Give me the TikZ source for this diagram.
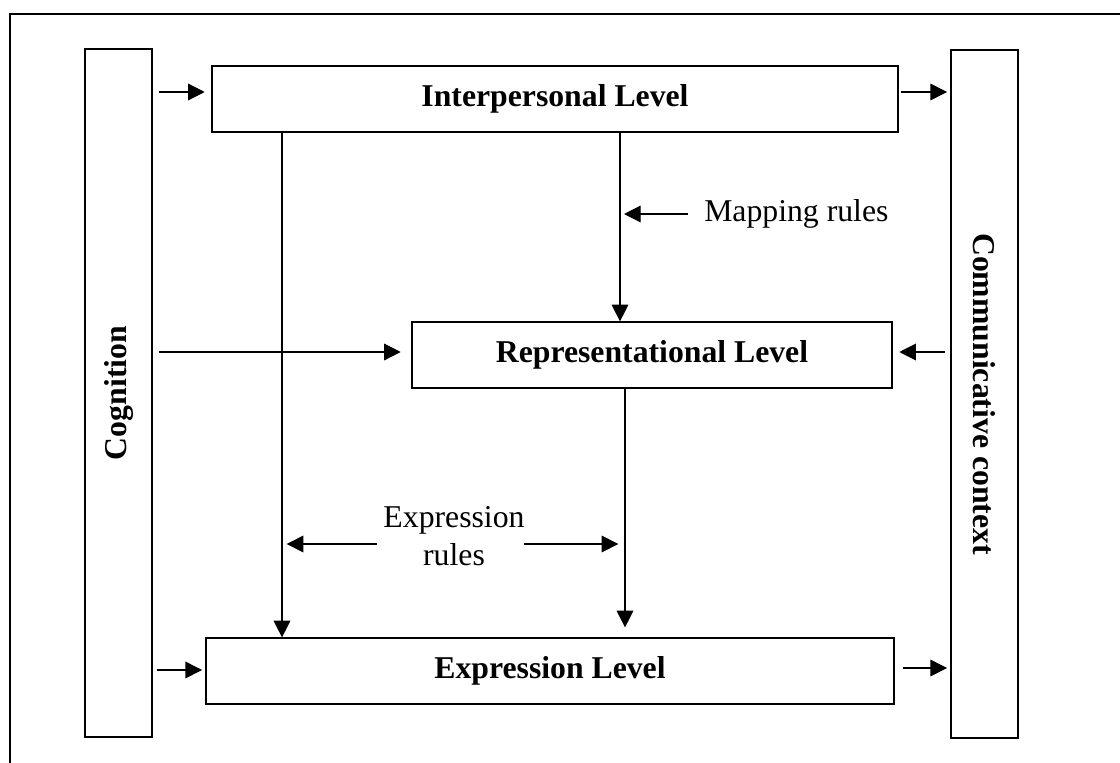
\documentclass[tikz,border=0pt]{standalone}
\usepackage{fontspec}
\setmainfont{Liberation Serif}
\usetikzlibrary{arrows.meta}
\begin{document}
\begin{tikzpicture}[x=0.75pt,y=-0.75pt,
  txt/.style={font=\fontsize{23.8}{29}\selectfont},
  level/.style={draw,line width=0.9pt,minimum height=49.5pt,inner sep=0pt,
    font=\fontsize{23.8}{29}\selectfont\bfseries},
  side/.style={draw,line width=0.9pt,minimum width=50.25pt,minimum height=516pt,inner sep=0pt},
  arr/.style={line width=0.9pt,-{Triangle[length=12.5pt,width=12.5pt]}}]
\useasboundingbox (0,0) rectangle (1120,763);
% outer frame (top and left edges)
\draw[line width=2pt] (10,763) -- (10,14) -- (1120,14);

% side columns
\node[side] (cog) at (118.5,393) {};
\node[txt,font=\fontsize{23.8}{29}\selectfont\bfseries,rotate=90] (cogt) at (cog.center) {Cognition};
\node[side] (com) at (984.5,394) {};
\node[txt,font=\fontsize{23.8}{29}\selectfont\bfseries,rotate=-90] (comt) at (com.center) {Communicative context};

% levels
\node[level,minimum width=514.5pt] (ip) at (555,99) {Interpersonal Level};
\node[level,minimum width=360pt] (rep) at (652,355) {Representational Level};
\node[level,minimum width=516pt] (ex) at (550,671) {Expression Level};

% horizontal inputs and outputs
\draw[arr] ([xshift=4.5pt]cog.east |- 0,92) -- ([xshift=-5pt]ip.west |- 0,92);
\draw[arr] ([xshift=1.5pt]ip.east |- 0,92) -- ([xshift=-2.5pt]com.west |- 0,92);
\draw[arr] ([xshift=4.5pt]cog.east |- 0,352) -- ([xshift=-8pt]rep.west |- 0,352);
\draw[arr] ([xshift=-4pt]com.west |- 0,352) -- ([xshift=5pt]rep.east |- 0,352);
\draw[arr] ([xshift=3pt]cog.east |- 0,670) -- ([xshift=-2.5pt]ex.west |- 0,670);
\draw[arr] ([xshift=6pt]ex.east |- 0,668) -- ([xshift=-2.5pt]com.west |- 0,668);

% vertical links between levels
\coordinate (ipL) at (282,132);
\coordinate (ipR) at (620,132);
\coordinate (repD) at (625,388);
\draw[arr] (ipL |- ip.south) -- (ipL |- ex.north);
\draw[arr] (ipR |- ip.south) -- (ipR |- rep.north);
\draw[arr] (repD |- rep.south) -- ([yshift=7.5pt]repD |- ex.north);

% rule labels
\node[txt,anchor=west,inner sep=0pt] (map) at (704,214) {Mapping rules};
\draw[arr] ([xshift=-12pt]map.west) -- ([xshift=3pt]ipR |- map.west);

\node[txt,align=center,inner sep=0pt] (exr) at (454,536) {Expression\\rules};
\coordinate (exrY) at (0,544);
\draw[arr] ([xshift=-4.5pt]exr.west |- exrY) -- ([xshift=3.5pt]ipL |- exrY);
\draw[arr] ([xshift=-0.5pt]exr.east |- exrY) -- ([xshift=-5pt]repD |- exrY);
\end{tikzpicture}
\end{document}
